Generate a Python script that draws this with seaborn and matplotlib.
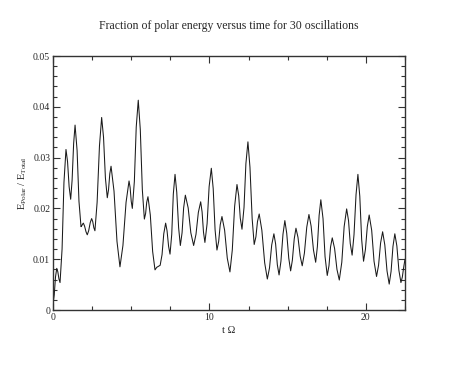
import matplotlib
matplotlib.use("Agg")
import matplotlib.pyplot as plt
import seaborn as sns
import pandas as pd
from matplotlib.ticker import MultipleLocator, FuncFormatter

# Points (extrema plus points along each slope)
time_omega = [
    0.0, 0.08, 0.16, 0.24, 0.31, 0.38, 0.45, 0.58, 0.70, 0.83, 0.93, 1.03, 1.13, 1.22, 1.32,
    1.41, 1.54, 1.66, 1.79, 1.84, 1.89, 1.94, 2.02, 2.11, 2.19, 2.28, 2.38, 2.47, 2.54, 2.61,
    2.68, 2.82, 2.97, 3.11, 3.23, 3.35, 3.47, 3.55, 3.63, 3.71, 3.90, 4.09, 4.28, 4.47, 4.67,
    4.86, 4.93, 5.00, 5.07, 5.20, 5.32, 5.45, 5.58, 5.71, 5.84, 5.92, 5.99, 6.07, 6.22, 6.37,
    6.52, 6.63, 6.74, 6.85, 6.97, 7.08, 7.20, 7.29, 7.39, 7.48, 7.59, 7.69, 7.80, 7.91, 8.03,
    8.14, 8.25, 8.35, 8.46, 8.64, 8.81, 8.99, 9.14, 9.29, 9.44, 9.53, 9.62, 9.71, 9.85, 9.98,
    10.12, 10.24, 10.36, 10.48, 10.59, 10.69, 10.80, 10.97, 11.14, 11.31, 11.46, 11.61, 11.76,
    11.87, 11.97, 12.08, 12.21, 12.33, 12.46, 12.59, 12.73, 12.86, 12.97, 13.07, 13.18, 13.35,
    13.53, 13.70, 13.84, 13.98, 14.12, 14.23, 14.34, 14.45, 14.57, 14.70, 14.82, 14.94, 15.07,
    15.19, 15.30, 15.42, 15.53, 15.66, 15.80, 15.93, 16.07, 16.22, 16.36, 16.50, 16.65, 16.79,
    16.90, 17.01, 17.12, 17.26, 17.39, 17.53, 17.64, 17.74, 17.85, 18.00, 18.15, 18.30, 18.46,
    18.61, 18.77, 18.89, 19.00, 19.12, 19.24, 19.37, 19.49, 19.61, 19.73, 19.85, 19.97, 20.09,
    20.21, 20.37, 20.52, 20.68, 20.81, 20.94, 21.07, 21.21, 21.35, 21.49, 21.61, 21.73, 21.85,
    21.98, 22.11, 22.24, 22.33, 22.42, 22.50]
energy_fraction = [
    0.0012, 0.0030, 0.0065, 0.0082, 0.0075, 0.0061, 0.0054, 0.0120, 0.0251, 0.0316, 0.0292,
    0.0243, 0.0218, 0.0255, 0.0328, 0.0364, 0.0314, 0.0214, 0.0164, 0.0166, 0.0169, 0.0171,
    0.0165, 0.0154, 0.0148, 0.0156, 0.0172, 0.0180, 0.0174, 0.0162, 0.0156, 0.0212, 0.0323,
    0.0379, 0.0340, 0.0260, 0.0221, 0.0237, 0.0268, 0.0283, 0.0234, 0.0135, 0.0085, 0.0127,
    0.0212, 0.0254, 0.0241, 0.0214, 0.0200, 0.0253, 0.0360, 0.0413, 0.0355, 0.0237, 0.0179,
    0.0190, 0.0212, 0.0223, 0.0187, 0.0115, 0.0079, 0.0084, 0.0086, 0.0088, 0.0109, 0.0150,
    0.0171, 0.0156, 0.0125, 0.0110, 0.0149, 0.0228, 0.0267, 0.0232, 0.0162, 0.0127, 0.0152,
    0.0201, 0.0226, 0.0201, 0.0152, 0.0127, 0.0149, 0.0192, 0.0213, 0.0193, 0.0153, 0.0133,
    0.0170, 0.0243, 0.0279, 0.0239, 0.0158, 0.0118, 0.0135, 0.0168, 0.0184, 0.0157, 0.0102,
    0.0075, 0.0118, 0.0204, 0.0247, 0.0225, 0.0181, 0.0159, 0.0202, 0.0288, 0.0331, 0.0281,
    0.0180, 0.0129, 0.0144, 0.0174, 0.0189, 0.0157, 0.0093, 0.0061, 0.0083, 0.0128, 0.0150,
    0.0130, 0.0089, 0.0069, 0.0096, 0.0149, 0.0176, 0.0151, 0.0102, 0.0077, 0.0098, 0.0140,
    0.0161, 0.0143, 0.0106, 0.0087, 0.0112, 0.0163, 0.0188, 0.0165, 0.0118, 0.0094, 0.0125,
    0.0186, 0.0217, 0.0180, 0.0105, 0.0068, 0.0087, 0.0124, 0.0142, 0.0121, 0.0080, 0.0059,
    0.0094, 0.0164, 0.0199, 0.0176, 0.0131, 0.0108, 0.0148, 0.0227, 0.0267, 0.0224, 0.0139,
    0.0096, 0.0119, 0.0164, 0.0187, 0.0157, 0.0096, 0.0066, 0.0088, 0.0132, 0.0154, 0.0128,
    0.0077, 0.0051, 0.0076, 0.0125, 0.0150, 0.0126, 0.0078, 0.0054, 0.0065, 0.0085, 0.0100]

y_tick_labels = ["0", "0.01", "0.02", "0.03", "0.04", "0.05"]

df = pd.DataFrame({"t": time_omega, "E": energy_fraction})

sns.set_style("ticks")
plt.rcParams["font.family"] = ["Liberation Serif", "DejaVu Serif"]
plt.rcParams["mathtext.fontset"] = "custom"
plt.rcParams["mathtext.rm"] = "Liberation Serif"

fig = plt.figure(figsize=(4.69, 3.76), dpi=100)
ax = fig.add_axes([53 / 469, 1 - 310 / 376, (405 - 53) / 469, (310 - 56) / 376])

sns.lineplot(data=df, x="t", y="E", ax=ax, color="#1a1a1a", linewidth=0.75)

ax.set_xlim(0, 22.5)
ax.set_ylim(0, 0.05)
ax.xaxis.set_major_locator(MultipleLocator(10))
ax.xaxis.set_minor_locator(MultipleLocator(2.5))
ax.yaxis.set_major_locator(MultipleLocator(0.01))
ax.yaxis.set_minor_locator(MultipleLocator(0.002))


def fmt_y(v, pos):
    i = int(round(v / 0.01))
    if 0 <= i < len(y_tick_labels):
        return y_tick_labels[i]
    return ""


ax.yaxis.set_major_formatter(FuncFormatter(fmt_y))
ax.tick_params(which="both", direction="in", top=True, right=True, labelsize=7,
               color="#333333", width=0.8)
ax.tick_params(which="major", length=5, pad=2)
ax.tick_params(which="minor", length=3)
for s in ax.spines.values():
    s.set_linewidth(1.0)
    s.set_color("#333333")

ax.set_xlabel("t \u03A9", fontsize=7.5, labelpad=3)
ax.set_ylabel(r"E$_{\rm Polar}$ / E$_{\rm Total}$", fontsize=7.5, labelpad=3)
fig.text((53 + 405) / 2 / 469, 1 - 26 / 376,
         "Fraction of polar energy versus time for 30 oscillations",
         ha="center", va="center", fontsize=8.5)

fig.savefig("out.png", dpi=100)
